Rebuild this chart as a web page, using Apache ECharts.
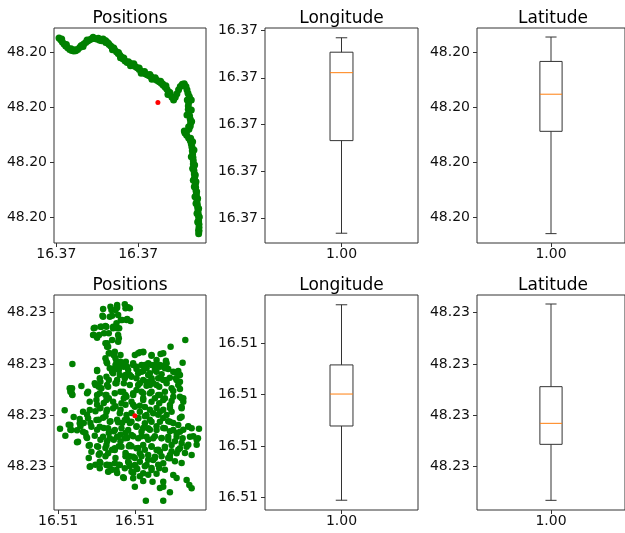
<!DOCTYPE html>
<html>
<head>
<meta charset="utf-8">
<script src="https://cdn.jsdelivr.net/npm/echarts@6/dist/echarts.min.js"></script>
<style>
html, body { margin: 0; padding: 0; background: #fff; }
#chart { width: 625px; height: 533px; }
</style>
</head>
<body>
<div id="chart"></div>
<script>
// ---- trip 1 (top row) ----
const track1 = [
  [16.370178,48.200885],[16.370183,48.200880],[16.370188,48.200873],[16.370193,48.200867],[16.370198,48.200861],
  [16.370204,48.200856],[16.370210,48.200851],[16.370216,48.200848],[16.370222,48.200846],[16.370228,48.200847],
  [16.370234,48.200851],[16.370240,48.200857],[16.370246,48.200862],[16.370252,48.200867],[16.370258,48.200872],
  [16.370264,48.200876],[16.370270,48.200880],[16.370276,48.200883],[16.370282,48.200884],[16.370288,48.200883],
  [16.370294,48.200881],[16.370300,48.200878],[16.370306,48.200877],[16.370312,48.200879],[16.370318,48.200877],
  [16.370323,48.200872],[16.370328,48.200866],[16.370333,48.200861],[16.370338,48.200856],[16.370344,48.200850],
  [16.370350,48.200844],[16.370355,48.200839],[16.370360,48.200834],[16.370365,48.200828],[16.370370,48.200822],
  [16.370376,48.200816],[16.370382,48.200812],[16.370388,48.200810],[16.370394,48.200808],[16.370400,48.200804],
  [16.370406,48.200800],[16.370412,48.200796],[16.370418,48.200791],[16.370424,48.200786],[16.370430,48.200782],
  [16.370436,48.200778],[16.370442,48.200775],[16.370448,48.200772],[16.370454,48.200769],[16.370460,48.200765],
  [16.370466,48.200762],[16.370472,48.200758],[16.370478,48.200754],[16.370484,48.200750],[16.370490,48.200744],
  [16.370496,48.200738],[16.370501,48.200732],[16.370506,48.200724],[16.370511,48.200716],[16.370516,48.200708],
  [16.370521,48.200700],[16.370526,48.200708],[16.370531,48.200718],[16.370536,48.200730],[16.370541,48.200740],
  [16.370547,48.200747],[16.370553,48.200748],[16.370558,48.200740],[16.370561,48.200730],[16.370564,48.200720],
  [16.370568,48.200710],[16.370570,48.200702],[16.370566,48.200692],[16.370565,48.200682],[16.370565,48.200672],
  [16.370567,48.200662],[16.370569,48.200652],[16.370571,48.200642],[16.370572,48.200632],[16.370571,48.200622],
  [16.370567,48.200612],[16.370560,48.200606],[16.370555,48.200601],[16.370560,48.200594],[16.370566,48.200586],
  [16.370571,48.200578],[16.370574,48.200568],[16.370576,48.200558],[16.370577,48.200548],[16.370578,48.200538],
  [16.370579,48.200528],[16.370580,48.200518],[16.370580,48.200508],[16.370581,48.200498],[16.370582,48.200488],
  [16.370583,48.200478],[16.370584,48.200468],[16.370585,48.200458],[16.370586,48.200448],[16.370587,48.200438],
  [16.370588,48.200428],[16.370589,48.200418],[16.370590,48.200408],[16.370591,48.200398],[16.370592,48.200388],
  [16.370593,48.200378],[16.370594,48.200368],[16.370595,48.200358],[16.370596,48.200348],[16.370596,48.200338],
  [16.370597,48.200328],[16.370597,48.200318],[16.370597,48.200308],[16.370596,48.200300],
  [16.370186,48.200882],[16.370200,48.200866],[16.370214,48.200853],[16.370226,48.200850],[16.370244,48.200862],
  [16.370262,48.200879],[16.370280,48.200887],[16.370296,48.200884],[16.370310,48.200882],[16.370326,48.200869],
  [16.370342,48.200855],[16.370356,48.200842],[16.370372,48.200825],[16.370386,48.200814],[16.370402,48.200808],
  [16.370418,48.200795],[16.370434,48.200785],[16.370450,48.200776],[16.370466,48.200766],[16.370482,48.200756],
  [16.370498,48.200742],[16.370510,48.200722],[16.370574,48.200700],[16.370562,48.200700],[16.370574,48.200670],
  [16.370561,48.200655],[16.370575,48.200635],[16.370566,48.200620],[16.370553,48.200607],[16.370572,48.200585],
  [16.370578,48.200575],[16.370582,48.200550],[16.370574,48.200530],[16.370584,48.200505],[16.370578,48.200495],
  [16.370586,48.200475],[16.370580,48.200460],[16.370588,48.200455],[16.370583,48.200440],[16.370590,48.200425],
  [16.370585,48.200410],[16.370593,48.200405],[16.370588,48.200390],[16.370596,48.200375],[16.370591,48.200360],
  [16.370598,48.200350],[16.370593,48.200335],[16.370596,48.200310],
  [16.370338,48.200850],[16.370362,48.200826],[16.370392,48.200802],[16.370424,48.200780],[16.370456,48.200762],
  [16.370488,48.200748],[16.370504,48.200716],[16.370318,48.200872],[16.370250,48.200860]
];
const centre1 = [[16.370474, 48.200692]];
// [position, min, Q1, median, Q3, max]
const lonBox1 = [1, 16.370178, 16.370377, 16.370523, 16.370567, 16.370598];
const latBox1 = [1, 48.200300, 48.200606, 48.200717, 48.200815, 48.200888];
const lonTicks1 = [16.370170, 16.370415];
const latTicks1 = [48.200843, 48.200678, 48.200513, 48.200350];
const lonBoxTicks1 = [16.370614, 16.370512, 16.370412, 16.370312, 16.370210];

// ---- trip 2 (bottom row) ----
const points2 = [
  [16.510375,48.230882],[16.510310,48.230868],[16.510335,48.230865],[16.510352,48.230872],[16.510385,48.230873],
  [16.510308,48.230848],[16.510330,48.230845],[16.510355,48.230850],[16.510380,48.230835],[16.510363,48.230835],
  [16.510350,48.230825],[16.510285,48.230812],[16.510305,48.230815],[16.510320,48.230815],[16.510340,48.230810],
  [16.510358,48.230810],[16.510298,48.230790],[16.510280,48.230790],[16.510313,48.230795],[16.510355,48.230790],
  [16.510322,48.230765],[16.510325,48.230755],[16.510355,48.230770],[16.510556,48.230775],[16.510512,48.230755],
  [16.510330,48.230735],[16.510345,48.230740],[16.510342,48.230730],[16.510430,48.230738],[16.510405,48.230730],
  [16.510420,48.230738],[16.510455,48.230730],[16.510490,48.230735],[16.510470,48.230715],[16.510320,48.230710],
  [16.510350,48.230710],[16.510365,48.230705],[16.510378,48.230710],[16.510400,48.230700],[16.510425,48.230700],
  [16.510440,48.230690],[16.510455,48.230700],[16.510480,48.230700],[16.510500,48.230705],[16.510548,48.230707],
  [16.510218,48.230703],[16.510292,48.230682],[16.510330,48.230690],[16.510345,48.230690],[16.510360,48.230695],
  [16.510385,48.230685],[16.510410,48.230688],[16.510425,48.230680],[16.510445,48.230670],[16.510470,48.230680],
  [16.510495,48.230690],[16.510520,48.230680],[16.510535,48.230675],[16.510300,48.230660],[16.510320,48.230665],
  [16.510340,48.230675],[16.510360,48.230670],[16.510375,48.230660],[16.510395,48.230665],[16.510410,48.230660],
  [16.510430,48.230655],[16.510455,48.230655],[16.510480,48.230660],[16.510500,48.230655],[16.510528,48.230660],
  [16.510540,48.230650],[16.510210,48.230630],[16.510245,48.230637],[16.510265,48.230620],[16.510285,48.230645],
  [16.510295,48.230640],[16.510305,48.230630],[16.510325,48.230635],[16.510350,48.230645],[16.510372,48.230645],
  [16.510390,48.230640],[16.510415,48.230640],[16.510440,48.230638],[16.510460,48.230645],[16.510478,48.230635],
  [16.510515,48.230630],[16.510540,48.230628],[16.510215,48.230620],[16.510218,48.230610],[16.510300,48.230615],
  [16.510320,48.230610],[16.510345,48.230615],[16.510370,48.230620],[16.510380,48.230605],[16.510400,48.230615],
  [16.510425,48.230620],[16.510450,48.230615],[16.510475,48.230610],[16.510495,48.230600],[16.510520,48.230605],
  [16.510545,48.230600],[16.510290,48.230595],[16.510270,48.230590],[16.510320,48.230595],[16.510340,48.230590],
  [16.510365,48.230585],[16.510395,48.230590],[16.510405,48.230575],[16.510430,48.230595],[16.510455,48.230590],
  [16.510478,48.230585],[16.510510,48.230580],[16.510545,48.230570],[16.510550,48.230590],[16.510195,48.230564],
  [16.510250,48.230560],[16.510270,48.230565],[16.510300,48.230570],[16.510320,48.230560],[16.510340,48.230570],
  [16.510360,48.230555],[16.510380,48.230550],[16.510420,48.230560],[16.510440,48.230550],[16.510460,48.230555],
  [16.510480,48.230560],[16.510500,48.230550],[16.510515,48.230560],[16.510545,48.230545],[16.510240,48.230538],
  [16.510265,48.230540],[16.510290,48.230535],[16.510310,48.230542],[16.510330,48.230530],[16.510355,48.230528],
  [16.510375,48.230535],[16.510395,48.230530],[16.510415,48.230540],[16.510435,48.230525],[16.510455,48.230530],
  [16.510480,48.230530],[16.510510,48.230530],[16.510535,48.230520],[16.510565,48.230515],[16.510181,48.230509],
  [16.510212,48.230520],[16.510215,48.230505],[16.510240,48.230525],[16.510250,48.230500],[16.510275,48.230515],
  [16.510300,48.230515],[16.510325,48.230510],[16.510345,48.230505],[16.510365,48.230510],[16.510385,48.230505],
  [16.510410,48.230515],[16.510425,48.230500],[16.510445,48.230510],[16.510470,48.230505],[16.510495,48.230510],
  [16.510520,48.230505],[16.510540,48.230500],[16.510575,48.230510],[16.510597,48.230509],[16.510235,48.230470],
  [16.510260,48.230485],[16.510285,48.230488],[16.510310,48.230485],[16.510330,48.230480],[16.510352,48.230485],
  [16.510375,48.230480],[16.510395,48.230490],[16.510415,48.230480],[16.510440,48.230485],[16.510460,48.230480],
  [16.510485,48.230480],[16.510505,48.230485],[16.510530,48.230485],[16.510548,48.230480],[16.510570,48.230485],
  [16.510594,48.230480],[16.510270,48.230460],[16.510295,48.230455],[16.510320,48.230460],[16.510345,48.230450],
  [16.510365,48.230455],[16.510390,48.230460],[16.510410,48.230450],[16.510430,48.230460],[16.510455,48.230455],
  [16.510470,48.230445],[16.510495,48.230455],[16.510515,48.230460],[16.510540,48.230450],[16.510560,48.230455],
  [16.510575,48.230430],[16.510275,48.230440],[16.510300,48.230435],[16.510325,48.230435],[16.510345,48.230445],
  [16.510380,48.230430],[16.510400,48.230425],[16.510420,48.230435],[16.510445,48.230430],[16.510465,48.230425],
  [16.510480,48.230440],[16.510510,48.230430],[16.510530,48.230435],[16.510270,48.230395],[16.510300,48.230410],
  [16.510320,48.230400],[16.510345,48.230405],[16.510360,48.230400],[16.510385,48.230410],[16.510405,48.230400],
  [16.510420,48.230410],[16.510440,48.230400],[16.510460,48.230415],[16.510490,48.230405],[16.510510,48.230420],
  [16.510300,48.230390],[16.510325,48.230380],[16.510350,48.230385],[16.510375,48.230390],[16.510395,48.230380],
  [16.510412,48.230388],[16.510430,48.230375],[16.510455,48.230385],[16.510478,48.230390],[16.510520,48.230370],
  [16.510330,48.230400],[16.510370,48.230363],[16.510400,48.230360],[16.510430,48.230352],[16.510458,48.230350],
  [16.510490,48.230350],[16.510560,48.230355],[16.510568,48.230340],[16.510575,48.230330],[16.510405,48.230335],
  [16.510490,48.230335],[16.510510,48.230318],[16.510438,48.230293],[16.510490,48.230293],
  // upper-left quarter, second reading
  [16.510332,48.230875],[16.510347,48.230865],[16.510352,48.230880],[16.510377,48.230870],[16.510310,48.230845],
  [16.510337,48.230848],[16.510367,48.230835],[16.510382,48.230838],[16.510302,48.230815],[16.510317,48.230817],
  [16.510340,48.230815],[16.510352,48.230810],[16.510282,48.230810],[16.510282,48.230790],[16.510292,48.230782],
  [16.510327,48.230795],[16.510357,48.230780],[16.510337,48.230775],[16.510317,48.230765],[16.510322,48.230755],
  [16.510327,48.230735],[16.510342,48.230730],[16.510362,48.230730],[16.510347,48.230720],[16.510317,48.230720],
  [16.510322,48.230705],[16.510347,48.230700],[16.510362,48.230710],[16.510372,48.230695],[16.510357,48.230685],
  [16.510382,48.230695],[16.510292,48.230685],[16.510337,48.230680],[16.510377,48.230670],[16.510352,48.230655],
  [16.510327,48.230655],[16.510302,48.230650],[16.510287,48.230640],[16.510297,48.230635],[16.510217,48.230630],
  [16.510212,48.230620],[16.510217,48.230612],[16.510262,48.230615],[16.510322,48.230640],[16.510347,48.230645],
  [16.510362,48.230620],[16.510377,48.230610],[16.510292,48.230610],[16.510317,48.230610],[16.510327,48.230600],
  [16.510372,48.230600],
  // upper-right quarter, second reading
  [16.510390,48.230870],[16.510392,48.230832],[16.510415,48.230735],[16.510430,48.230740],[16.510455,48.230728],
  [16.510482,48.230733],[16.510498,48.230713],[16.510400,48.230705],[16.510410,48.230695],[16.510435,48.230700],
  [16.510445,48.230705],[16.510465,48.230700],[16.510480,48.230695],[16.510495,48.230700],[16.510505,48.230688],
  [16.510525,48.230678],[16.510535,48.230682],[16.510540,48.230670],[16.510390,48.230670],[16.510415,48.230675],
  [16.510430,48.230682],[16.510450,48.230675],[16.510465,48.230685],[16.510485,48.230672],[16.510455,48.230660],
  [16.510475,48.230660],[16.510490,48.230655],[16.510510,48.230662],[16.510530,48.230655],[16.510535,48.230640],
  [16.510420,48.230645],[16.510440,48.230650],[16.510450,48.230640],[16.510470,48.230640],[16.510500,48.230645],
  [16.510410,48.230625],[16.510430,48.230615],[16.510455,48.230620],[16.510480,48.230610],[16.510495,48.230620],
  [16.510520,48.230622],[16.510540,48.230605],[16.510550,48.230600],[16.510400,48.230610],[16.510430,48.230600],
  [16.510465,48.230600],[16.510490,48.230595],[16.510515,48.230592],
  // lower-left quarter, second reading
  [16.510222,48.230544],[16.510207,48.230521],[16.510212,48.230506],[16.510197,48.230488],[16.510232,48.230504],
  [16.510232,48.230468],[16.510262,48.230551],[16.510257,48.230496],[16.510262,48.230481],[16.510267,48.230458],
  [16.510267,48.230421],[16.510272,48.230396],[16.510287,48.230561],[16.510292,48.230581],[16.510302,48.230571],
  [16.510312,48.230586],[16.510322,48.230566],[16.510347,48.230576],[16.510362,48.230566],[16.510377,48.230581],
  [16.510297,48.230536],[16.510317,48.230546],[16.510332,48.230531],[16.510352,48.230536],[16.510367,48.230526],
  [16.510382,48.230536],[16.510292,48.230506],[16.510312,48.230511],[16.510327,48.230496],[16.510342,48.230501],
  [16.510362,48.230491],[16.510377,48.230496],[16.510302,48.230476],[16.510322,48.230471],[16.510342,48.230476],
  [16.510362,48.230471],[16.510382,48.230481],[16.510292,48.230456],[16.510317,48.230451],[16.510337,48.230446],
  [16.510357,48.230456],[16.510377,48.230436],[16.510297,48.230431],[16.510317,48.230426],[16.510347,48.230421],
  [16.510377,48.230426],[16.510302,48.230406],[16.510322,48.230401],[16.510337,48.230386],[16.510357,48.230401],
  [16.510352,48.230376],[16.510327,48.230381],[16.510372,48.230361],[16.510287,48.230401],[16.510252,48.230526],
  [16.510242,48.230516],[16.510272,48.230526],[16.510387,48.230456],[16.510387,48.230406],
  // lower-right quarter, second reading
  [16.510400,48.230581],[16.510420,48.230578],[16.510435,48.230574],[16.510450,48.230566],[16.510470,48.230571],
  [16.510490,48.230566],[16.510510,48.230571],[16.510545,48.230574],[16.510395,48.230556],[16.510415,48.230541],
  [16.510435,48.230546],[16.510450,48.230536],[16.510475,48.230551],[16.510490,48.230541],[16.510505,48.230531],
  [16.510520,48.230526],[16.510540,48.230541],[16.510565,48.230516],[16.510390,48.230526],[16.510410,48.230516],
  [16.510430,48.230511],[16.510450,48.230506],[16.510470,48.230516],[16.510490,48.230511],[16.510510,48.230501],
  [16.510530,48.230496],[16.510550,48.230506],[16.510580,48.230486],[16.510590,48.230476],[16.510400,48.230486],
  [16.510425,48.230486],[16.510445,48.230476],[16.510465,48.230486],[16.510485,48.230481],[16.510505,48.230476],
  [16.510525,48.230471],[16.510545,48.230466],[16.510565,48.230461],[16.510590,48.230461],[16.510395,48.230456],
  [16.510415,48.230451],[16.510435,48.230446],[16.510455,48.230456],[16.510475,48.230446],[16.510495,48.230451],
  [16.510515,48.230441],[16.510535,48.230446],[16.510555,48.230436],[16.510390,48.230426],[16.510405,48.230421],
  [16.510425,48.230426],[16.510445,48.230416],[16.510465,48.230421],[16.510485,48.230426],[16.510505,48.230421],
  [16.510525,48.230411],[16.510545,48.230406],[16.510390,48.230396],[16.510410,48.230391],[16.510435,48.230396],
  [16.510455,48.230391],[16.510475,48.230401],[16.510495,48.230386],[16.510400,48.230376],[16.510420,48.230366],
  [16.510445,48.230371],[16.510470,48.230374],[16.510530,48.230361],[16.510480,48.230331]
];
const centre2 = [[16.510405, 48.230548]];
const lonBox2 = [1, 16.510181, 16.510339, 16.510407, 16.510469, 16.510597];
const latBox2 = [1, 48.230294, 48.230462, 48.230525, 48.230635, 48.230883];
const lonTicks2 = [16.510175, 16.510405];
const latTicks2 = [48.230857, 48.230702, 48.230548, 48.230395];
const lonBoxTicks2 = [16.510515, 16.510406, 16.510296, 16.510187];

const titles = ['Positions', 'Longitude', 'Latitude'];

// ---- layout ----
const colLeft = [54, 265, 477];
const colWidth = [152, 153, 152];
const rowTop = [28, 295];
const rowHeight = 215;
const font = '"DejaVu Sans"';

const grids = [];
const graphics = [];
for (let r = 0; r < 2; r++) {
  for (let c = 0; c < 3; c++) {
    grids.push({
      left: colLeft[c], top: rowTop[r], width: colWidth[c], height: rowHeight,
      show: true, borderColor: '#333', borderWidth: 1, containLabel: false
    });
    graphics.push({
      type: 'text', x: colLeft[c] + colWidth[c] / 2, y: rowTop[r] - 9,
      style: { text: titles[c], fill: '#000', font: '17px ' + font, textAlign: 'center', textVerticalAlign: 'middle' }
    });
  }
}

function axis(dim, gridIndex, min, max, ticks) {
  return {
    type: 'value', gridIndex, min, max, scale: true,
    axisLine: { show: false },
    splitLine: { show: false },
    axisTick: { show: true, customValues: ticks, length: 4, lineStyle: { color: '#333', width: 1 } },
    axisLabel: {
      customValues: ticks, formatter: v => v.toFixed(2),
      fontSize: 14, fontFamily: font, color: '#111',
      margin: dim === 'x' ? 4 : 7
    }
  };
}

function padded(box, pad) {
  const range = box[5] - box[1];
  return [box[1] - pad * range, box[5] + pad * range];
}

const lonRange1 = padded(lonBox1, 0.05);
const lonRange2 = padded(lonBox2, 0.05);

const xAxes = [
  axis('x', 0, 16.370163, 16.370618, lonTicks1),
  axis('x', 1, 0.5, 1.5, [1]),
  axis('x', 2, 0.5, 1.5, [1]),
  axis('x', 3, 16.510163, 16.510618, lonTicks2),
  axis('x', 4, 0.5, 1.5, [1]),
  axis('x', 5, 0.5, 1.5, [1])
];
const yAxes = [
  axis('y', 0, 48.200272, 48.200915, latTicks1),
  axis('y', 1, lonRange1[0], lonRange1[1], lonBoxTicks1),
  axis('y', 2, 48.200272, 48.200915, latTicks1),
  axis('y', 3, 48.230265, 48.230910, latTicks2),
  axis('y', 4, lonRange2[0], lonRange2[1], lonBoxTicks2),
  axis('y', 5, 48.230265, 48.230910, latTicks2)
];

function renderBox(params, api) {
  const x = api.value(0);
  const half = 0.075, cap = 0.0375;
  const lo = api.coord([x, api.value(1)]);
  const q1 = api.coord([x - half, api.value(2)]);
  const med = api.coord([x, api.value(3)]);
  const q3 = api.coord([x + half, api.value(4)]);
  const hi = api.coord([x, api.value(5)]);
  const capL = api.coord([x - cap, api.value(1)])[0];
  const capR = api.coord([x + cap, api.value(1)])[0];
  const line = { stroke: '#333', lineWidth: 1, fill: null };
  return {
    type: 'group',
    children: [
      { type: 'line', shape: { x1: lo[0], y1: lo[1], x2: lo[0], y2: q1[1] }, style: line },
      { type: 'line', shape: { x1: hi[0], y1: hi[1], x2: hi[0], y2: q3[1] }, style: line },
      { type: 'line', shape: { x1: capL, y1: lo[1], x2: capR, y2: lo[1] }, style: line },
      { type: 'line', shape: { x1: capL, y1: hi[1], x2: capR, y2: hi[1] }, style: line },
      { type: 'rect', shape: { x: q1[0], y: q3[1], width: q3[0] - q1[0], height: q1[1] - q3[1] },
        style: { stroke: '#333', lineWidth: 1, fill: 'rgba(0,0,0,0)' } },
      { type: 'line', shape: { x1: q1[0], y1: med[1], x2: q3[0], y2: med[1] },
        style: { stroke: '#ff7f0e', lineWidth: 1 } }
    ]
  };
}

function scatter(i, data, color, size) {
  return { type: 'scatter', xAxisIndex: i, yAxisIndex: i, data, symbolSize: size,
    itemStyle: { color, opacity: 1 }, silent: true };
}
function box(i, data) {
  return { type: 'custom', xAxisIndex: i, yAxisIndex: i, data: [data],
    encode: { x: 0, y: [1, 2, 3, 4, 5] }, renderItem: renderBox, silent: true };
}

const chart = echarts.init(document.getElementById('chart'));
chart.setOption({
  animation: false,
  backgroundColor: '#fff',
  grid: grids,
  xAxis: xAxes,
  yAxis: yAxes,
  graphic: graphics,
  series: [
    scatter(0, track1, '#008000', 7),
    scatter(0, centre1, '#ff0000', 5),
    box(1, lonBox1),
    box(2, latBox1),
    scatter(3, points2, '#008000', 6.5),
    scatter(3, centre2, '#ff0000', 5),
    box(4, lonBox2),
    box(5, latBox2)
  ]
});
</script>
</body>
</html>
